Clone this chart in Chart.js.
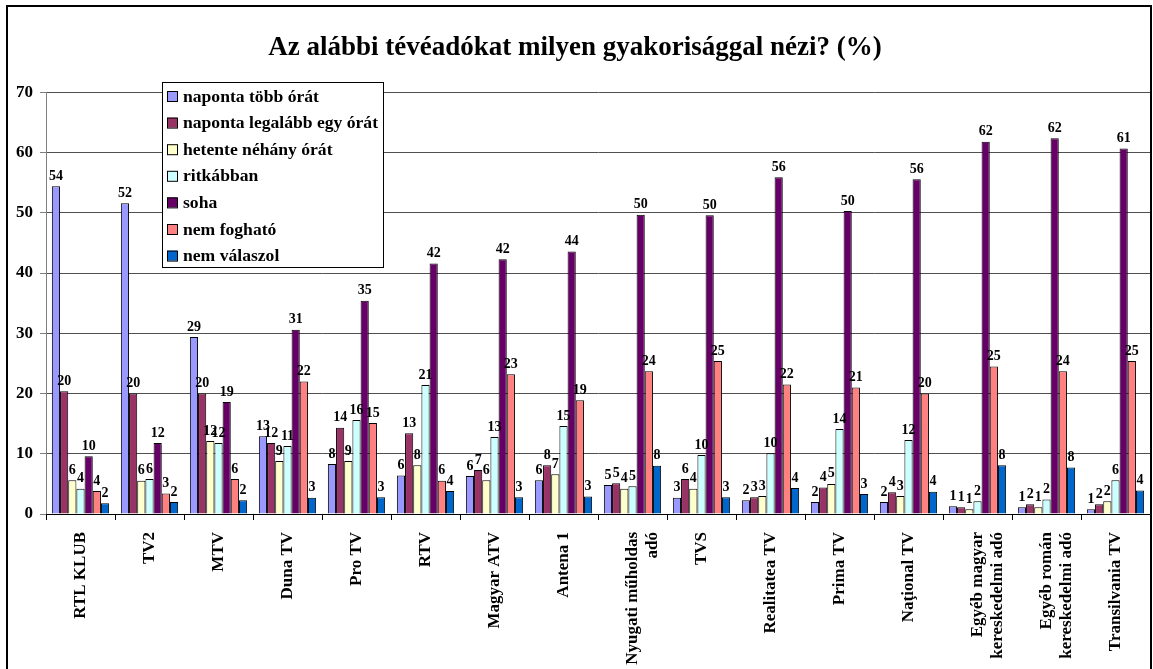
<!DOCTYPE html>
<html>
<head>
<meta charset="utf-8">
<script src="https://cdn.jsdelivr.net/npm/chart.js@4/dist/chart.umd.min.js"></script>
<style>
  html, body { margin: 0; padding: 0; background: #fff; }
  #wrap { position: relative; width: 1153px; height: 669px; overflow: hidden; }
  #frame { position: absolute; left: 6px; top: 5px; width: 1146px; height: 700px; border: 2px solid #000; box-sizing: border-box; pointer-events: none; }
  canvas { position: absolute; left: 0; top: 0; }
</style>
</head>
<body>
<div id="wrap">
  <canvas id="chart" width="1153" height="669"></canvas>
  <div id="frame"></div>
</div>
<script>
// Data
const channels = [
  "RTL KLUB", "TV2", "MTV", "Duna TV", "Pro TV", "RTV", "Magyar ATV", "Antena 1",
  ["Nyugati műholdas", "adó"], "TVS", "Realitatea TV", "Prima TV", "Naţional TV",
  ["Egyéb magyar", "kereskedelmi adó"], ["Egyéb román", "kereskedelmi adó"], "Transilvania TV"
];

const seriesNames = [
  "naponta több órát", "naponta legalább egy órát", "hetente néhány órát",
  "ritkábban", "soha", "nem fogható", "nem válaszol"
];

const napontaTobb    = [54.4, 51.6, 29.4, 12.9, 8.3, 6.4, 6.3, 5.6, 4.8, 2.7, 2.3, 2.0, 2.0, 1.3, 1.1, 0.8];
const napontaEgy     = [20.4, 20.0, 20.0, 11.8, 14.3, 13.4, 7.3, 8.1, 5.1, 5.8, 2.8, 4.4, 3.6, 1.1, 1.6, 1.6];
const hetente        = [5.6, 5.5, 12.1, 8.8, 8.8, 8.1, 5.6, 6.6, 4.2, 4.2, 3.0, 5.0, 3.0, 0.8, 1.1, 2.1];
const ritkabban      = [4.2, 5.8, 11.8, 11.3, 15.6, 21.4, 12.8, 14.6, 4.6, 9.8, 10.1, 14.1, 12.3, 2.1, 2.4, 5.6];
const soha           = [9.6, 11.8, 18.6, 30.6, 35.4, 41.6, 42.3, 43.6, 49.7, 49.6, 55.9, 50.3, 55.6, 61.8, 62.4, 60.7];
const nemFoghato     = [3.8, 3.4, 5.8, 22.0, 15.1, 5.5, 23.2, 18.9, 23.7, 25.4, 21.5, 21.0, 20.0, 24.5, 23.7, 25.4];
const nemValaszol    = [1.8, 2.0, 2.3, 2.7, 2.8, 3.8, 2.8, 2.9, 8.0, 2.8, 4.3, 3.3, 3.7, 8.1, 7.7, 3.9];

const yTicks = [0, 10, 20, 30, 40, 50, 60, 70];

const colors = ["#9999FF", "#993366", "#FFFFCC", "#CCFFFF", "#660066", "#FF8080", "#0066CC"];
const allSeries = [napontaTobb, napontaEgy, hetente, ritkabban, soha, nemFoghato, nemValaszol];

const FONT = "'Liberation Serif', 'Times New Roman', serif";

// Value labels above bars
const valueLabels = {
  id: "valueLabels",
  afterDatasetsDraw(chart) {
    const ctx = chart.ctx;
    ctx.save();
    ctx.font = "bold 14px " + FONT;
    ctx.fillStyle = "#000";
    ctx.textAlign = "center";
    ctx.textBaseline = "bottom";
    chart.data.datasets.forEach((ds, i) => {
      chart.getDatasetMeta(i).data.forEach((bar, j) => {
        ctx.fillText(String(Math.round(ds.data[j])), bar.x, bar.y - 3);
      });
    });
    ctx.restore();
  },
};

// Legend box drawn over the plot
const boxLegend = {
  id: "boxLegend",
  afterDraw(chart, args, opts) {
    const ctx = chart.ctx;
    ctx.save();
    ctx.fillStyle = "#fff";
    ctx.fillRect(opts.x, opts.y, opts.w, opts.h);
    ctx.strokeStyle = "#000";
    ctx.lineWidth = 1;
    ctx.strokeRect(opts.x + 0.5, opts.y + 0.5, opts.w, opts.h);
    ctx.font = "bold 17.6px " + FONT;
    ctx.textBaseline = "middle";
    chart.data.datasets.forEach((ds, i) => {
      const cy = opts.y + 14 + i * 26.6;
      ctx.fillStyle = ds.backgroundColor;
      ctx.fillRect(opts.x + 5, cy - 5, 10, 10);
      ctx.strokeStyle = "#000";
      ctx.strokeRect(opts.x + 5.5, cy - 4.5, 10, 10);
      ctx.fillStyle = "#000";
      ctx.fillText(ds.label, opts.x + 21, cy + 1);
    });
    ctx.restore();
  },
};

new Chart(document.getElementById("chart"), {
  type: "bar",
  data: {
    labels: channels,
    datasets: allSeries.map((data, i) => ({
      label: seriesNames[i],
      data: data,
      backgroundColor: colors[i],
      borderColor: "#000",
      borderWidth: 1,
    })),
  },
  options: {
    responsive: false,
    animation: false,
    layout: { padding: { left: 0, right: 3, top: 0, bottom: 0 } },
    datasets: { bar: { categoryPercentage: 0.83, barPercentage: 1 } },
    plugins: {
      legend: { display: false },
      tooltip: { enabled: false },
      title: {
        display: true,
        text: "Az alábbi tévéadókat milyen gyakorisággal nézi? (%)",
        color: "#000",
        font: { family: FONT, size: 27, weight: "bold" },
        padding: { top: 32, bottom: 28 },
      },
      boxLegend: { x: 162, y: 82, w: 221, h: 185 },
    },
    scales: {
      y: {
        min: 0,
        max: 70,
        afterFit(scale) { scale.width = 46; },
        afterBuildTicks(scale) { scale.ticks = yTicks.map((v) => ({ value: v })); },
        grid: { color: "#505050", tickColor: "#808080", tickLength: 6 },
        border: { color: "#808080" },
        ticks: { color: "#000", padding: 7, font: { family: FONT, size: 17, weight: "bold" } },
      },
      x: {
        afterFit(scale) { scale.height = 155; },
        grid: { offset: true, drawOnChartArea: false, color: "#000", tickLength: 6 },
        border: { color: "#000" },
        ticks: {
          color: "#000",
          minRotation: 90,
          maxRotation: 90,
          autoSkip: false,
          padding: 12,
          font: { family: FONT, size: 17, weight: "bold" },
        },
      },
    },
  },
  plugins: [valueLabels, boxLegend],
});
</script>
</body>
</html>
